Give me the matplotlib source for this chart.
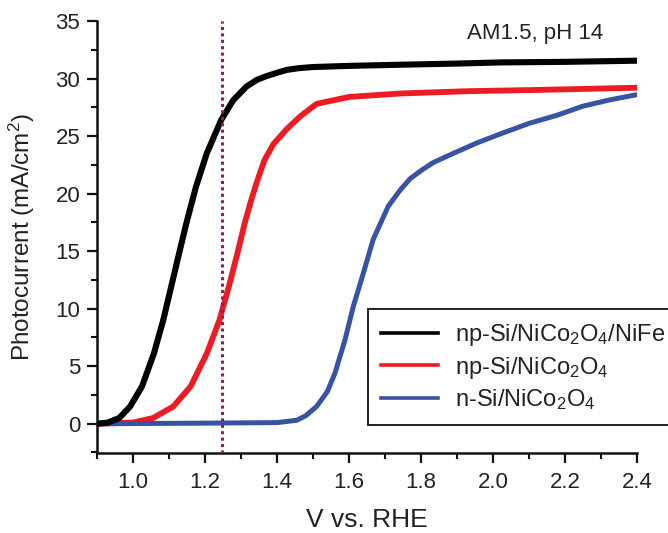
'''
Curvas de fotocorrente (LSV) dos fotoanodos de Si, sob AM1.5 em pH 14.
'''

import matplotlib
matplotlib.use('Agg')
import matplotlib.pyplot as plt
from matplotlib.lines import Line2D
from matplotlib.ticker import MultipleLocator

# Valores (V vs. RHE, mA/cm2)
v_npsi_nife = [0.90, 0.93, 0.962, 0.992, 1.025, 1.058, 1.084, 1.106, 1.128, 1.148,
               1.175, 1.205, 1.245, 1.278, 1.315, 1.345, 1.37, 1.40, 1.427, 1.46,
               1.50, 1.60, 1.742, 1.90, 2.02, 2.20, 2.40]
j_npsi_nife = [0.0, 0.1, 0.5, 1.5, 3.24, 6.1, 9.0, 11.9, 14.8, 17.4,
               20.6, 23.5, 26.4, 28.1, 29.3, 29.9, 30.2, 30.5, 30.75, 30.9,
               31.0, 31.1, 31.2, 31.3, 31.4, 31.45, 31.55]

v_npsi = [0.90, 1.00, 1.056, 1.112, 1.160, 1.205, 1.240, 1.266, 1.290, 1.310,
          1.328, 1.344, 1.365, 1.39, 1.427, 1.464, 1.51, 1.60, 1.742, 1.928,
          2.11, 2.40]
j_npsi = [0.0, 0.1, 0.5, 1.5, 3.24, 6.1, 9.0, 11.9, 14.8, 17.4,
          19.4, 21.0, 22.9, 24.3, 25.6, 26.7, 27.8, 28.4, 28.7, 28.9,
          29.0, 29.2]

v_nsi = [0.90, 1.20, 1.40, 1.455, 1.48, 1.51, 1.54, 1.561, 1.589, 1.612,
         1.64, 1.667, 1.709, 1.742, 1.77, 1.80, 1.834, 1.89, 1.955, 2.03,
         2.10, 2.177, 2.25, 2.325, 2.40]
j_nsi = [0.0, 0.05, 0.1, 0.3, 0.7, 1.5, 2.8, 4.4, 7.3, 10.2,
         13.1, 16.0, 18.9, 20.3, 21.3, 22.0, 22.7, 23.5, 24.4, 25.3,
         26.1, 26.8, 27.6, 28.15, 28.6]

labels = ['np-Si/NiCo$_2$O$_4$/NiFe', 'np-Si/NiCo$_2$O$_4$', 'n-Si/NiCo$_2$O$_4$']
colors = ['#000000', '#ED1C24', '#3953A4']
v_ref = 1.248


def main():
	plt.rcParams['font.family'] = ['Liberation Sans', 'DejaVu Sans']
	plt.rcParams['mathtext.fontset'] = 'custom'
	plt.rcParams['mathtext.rm'] = 'Liberation Sans'
	plt.rcParams['mathtext.default'] = 'regular'

	fig = plt.figure(figsize=(6.68, 5.33), dpi=100)
	ax = fig.add_axes([97 / 668, 1 - 452.5 / 533, 540 / 668, 431.5 / 533])

	# Curvas
	ax.plot(v_npsi, j_npsi, color=colors[1], lw=4.2, solid_joinstyle='round', zorder=2)
	ax.plot(v_nsi, j_nsi, color=colors[2], lw=3.6, solid_joinstyle='round', zorder=2.1)
	ax.plot(v_npsi_nife, j_npsi_nife, color=colors[0], lw=4.4, solid_joinstyle='round', zorder=2.2)

	# Linha de 1.23 V (potencial termodinâmico)
	ax.axvline(v_ref, color='#9A1468', lw=2.2, ls=(0, (1, 1.1)), zorder=3)

	ax.set_xlim(0.9, 2.4)
	ax.set_ylim(-2.5, 35)
	ax.xaxis.set_minor_locator(MultipleLocator(0.1))
	ax.yaxis.set_major_locator(MultipleLocator(5))
	ax.yaxis.set_minor_locator(MultipleLocator(2.5))
	ax.set_xticks([1.0, 1.2, 1.4, 1.6, 1.8, 2.0, 2.2, 2.4])
	ax.set_xticklabels(['1.0', '1.2', '1.4', '1.6', '1.8', '2.0', '2.2', '2.4'])

	for s in ['top', 'right']:
		ax.spines[s].set_visible(False)
	for s in ['left', 'bottom']:
		ax.spines[s].set_linewidth(1.8)
		ax.spines[s].set_color('#111111')

	ax.tick_params(which='major', direction='out', length=7, width=1.6,
	               labelsize=16, pad=5, colors='#111111', labelcolor='#222222')
	ax.tick_params(axis='x', which='major', pad=7)
	ax.tick_params(which='minor', direction='out', length=4.5, width=1.5, colors='#111111')

	ax.set_xlabel('V vs. RHE', fontsize=19, labelpad=11, color='#222222')
	ax.set_ylabel('Photocurrent (mA/cm$^2$)', fontsize=17.5, labelpad=13, color='#222222')

	ax.text(1.928, 33.45, 'AM1.5, pH 14', fontsize=16, ha='left', va='baseline',
	        color='#222222')

	# Legenda com caixa quadrada, saindo pela direita
	handles = [Line2D([], [], color=c, lw=2.6) for c in colors]
	leg = fig.legend(handles, labels, loc='upper left',
	                 bbox_to_anchor=(368 / 668, 1 - 309 / 533),
	                 fontsize=17, frameon=True, fancybox=False, framealpha=1,
	                 edgecolor='#111111', handlelength=2.4, handletextpad=0.75,
	                 labelspacing=0.28, borderpad=0.55, borderaxespad=0)
	leg.get_frame().set_linewidth(1.3)
	for t in leg.get_texts():
		t.set_color('#222222')

	fig.savefig('out.png', dpi=100)


if __name__ == '__main__':
	main()
